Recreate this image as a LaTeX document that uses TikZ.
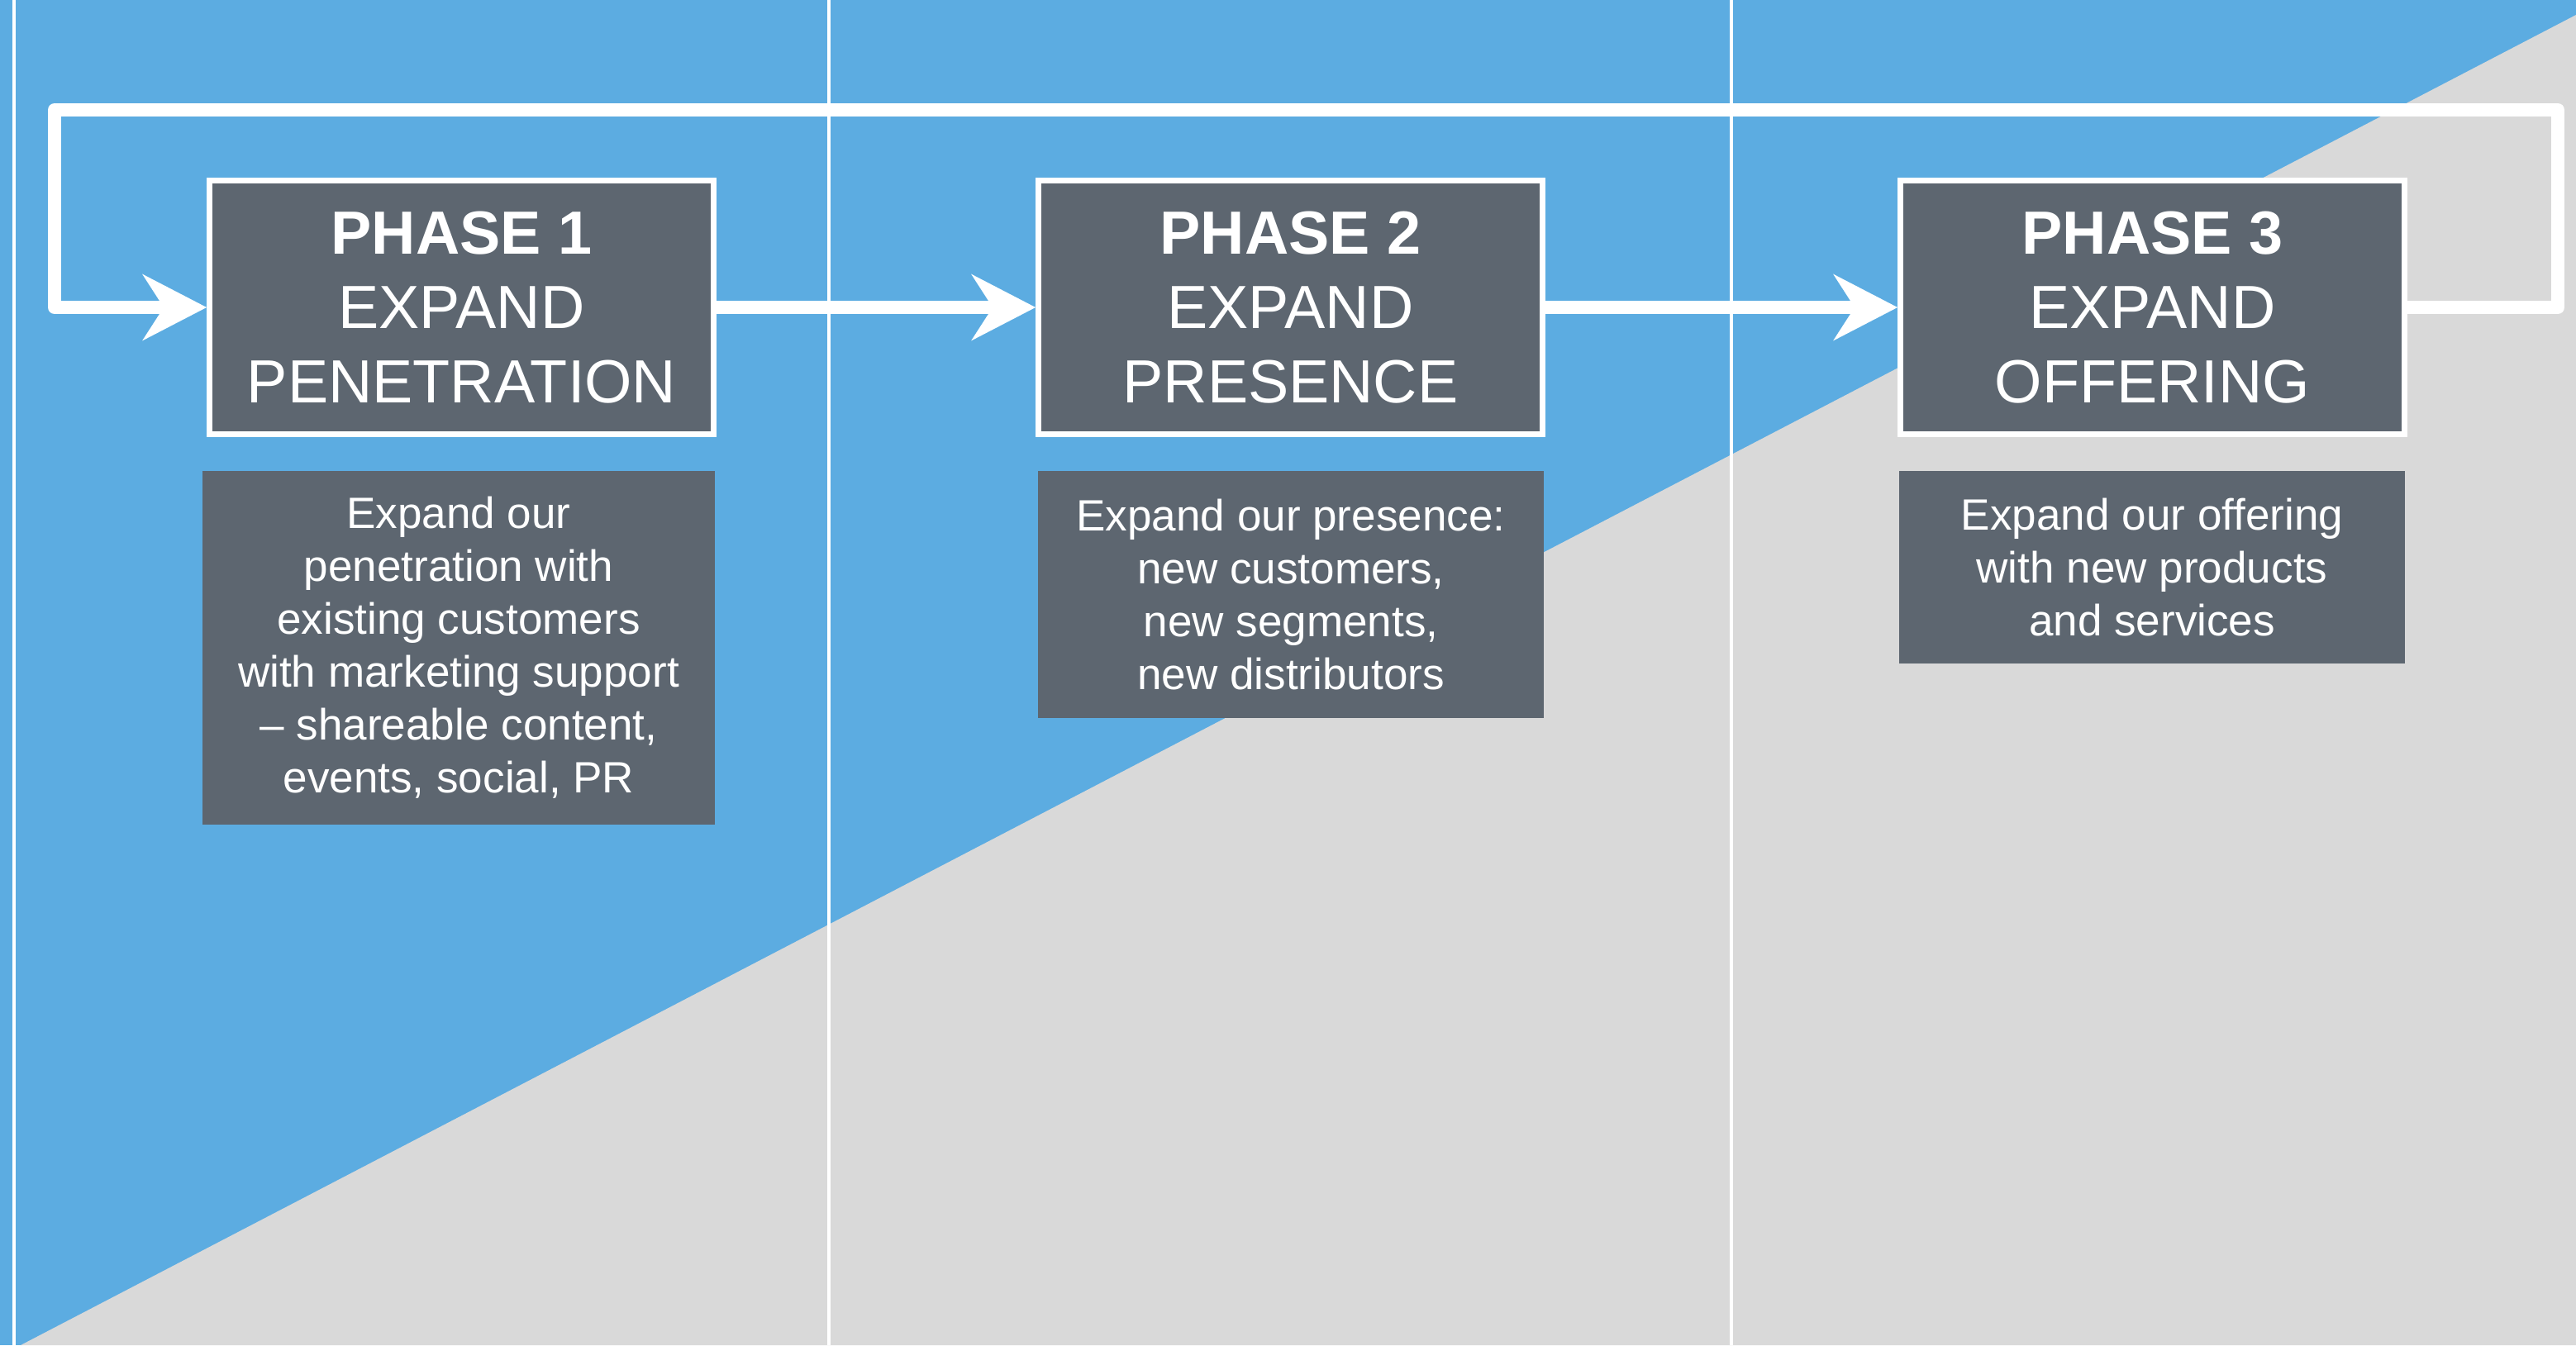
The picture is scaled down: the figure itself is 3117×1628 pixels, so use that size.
\documentclass[tikz,border=0pt]{standalone}
\usepackage{fontspec}
\setmainfont{Liberation Sans}
\usepackage{tikz}
\usetikzlibrary{arrows.meta,positioning}
\definecolor{bgblue}{RGB}{92,172,225}
\definecolor{bggray}{RGB}{217,217,217}
\definecolor{boxgray}{RGB}{93,102,112}
\tikzstyle{phaseblock} = [draw=white, fill=boxgray, text=white, align=center, line width=0.67mm, minimum width=6.1cm, minimum height=3.07cm, inner sep=0pt, font=\fontsize{21}{25.6}\selectfont]
\tikzstyle{infoblock} = [fill=boxgray, text=white, align=center, inner sep=0pt, anchor=north, font=\fontsize{15.1}{18.2}\selectfont]
\tikzstyle{arrow} = [draw, white, line width=1.6mm, line join=round, -{Stealth[length=7.7mm, width=7.9mm, inset=2.5mm]}]
\tikzstyle{divider} = [draw, white, line width=0.4mm]
\newcommand{\phaseblock}[2]{node (p#1) [phaseblock] {#2}}
\newcommand{\infoblock}[4]{node (i#1) [infoblock, minimum width=#2, minimum height=#3] {#4}}

\begin{document}
\begin{tikzpicture}[x=0.1mm, y=-0.1mm]
\useasboundingbox (0,0) rectangle (3117,1628);
% background split
\fill[bgblue] (0,0) rectangle (3117,1628);
\fill[bggray] (25,1628) -- (3117,18) -- (3117,1628) -- cycle;
\foreach \x in {16.5,1003,2095}
  \path [divider] (\x,0) -- (\x,1628);

\path (558.5,372) \phaseblock{1}{\textbf{PHASE 1}\\EXPAND\\PENETRATION};
\path (p1)+(1003,0) \phaseblock{2}{\textbf{PHASE 2}\\EXPAND\\PRESENCE};
\path (p2)+(1043,0) \phaseblock{3}{\textbf{PHASE 3}\\EXPAND\\OFFERING};

\path (555,569) \infoblock{1}{6.2cm}{4.28cm}{Expand our\\penetration with\\existing customers\\with marketing support\\-- shareable content,\\events, social, PR};
\path (1562,569) \infoblock{2}{6.12cm}{2.99cm}{Expand our presence:\\new customers,\\new segments,\\new distributors};
\path (2604,569) \infoblock{3}{6.12cm}{2.33cm}{Expand our offering\\with new products\\and services};

\coordinate (tr) at (3095,133);
\coordinate (tl) at (66,133);
\path [arrow] (p1.east) -- (p2.west);
\path [arrow] (p2.east) -- (p3.west);
\path [arrow] (p3.east) -| (tr) -- (tl) |- (p1.west);
\end{tikzpicture}
\end{document}
